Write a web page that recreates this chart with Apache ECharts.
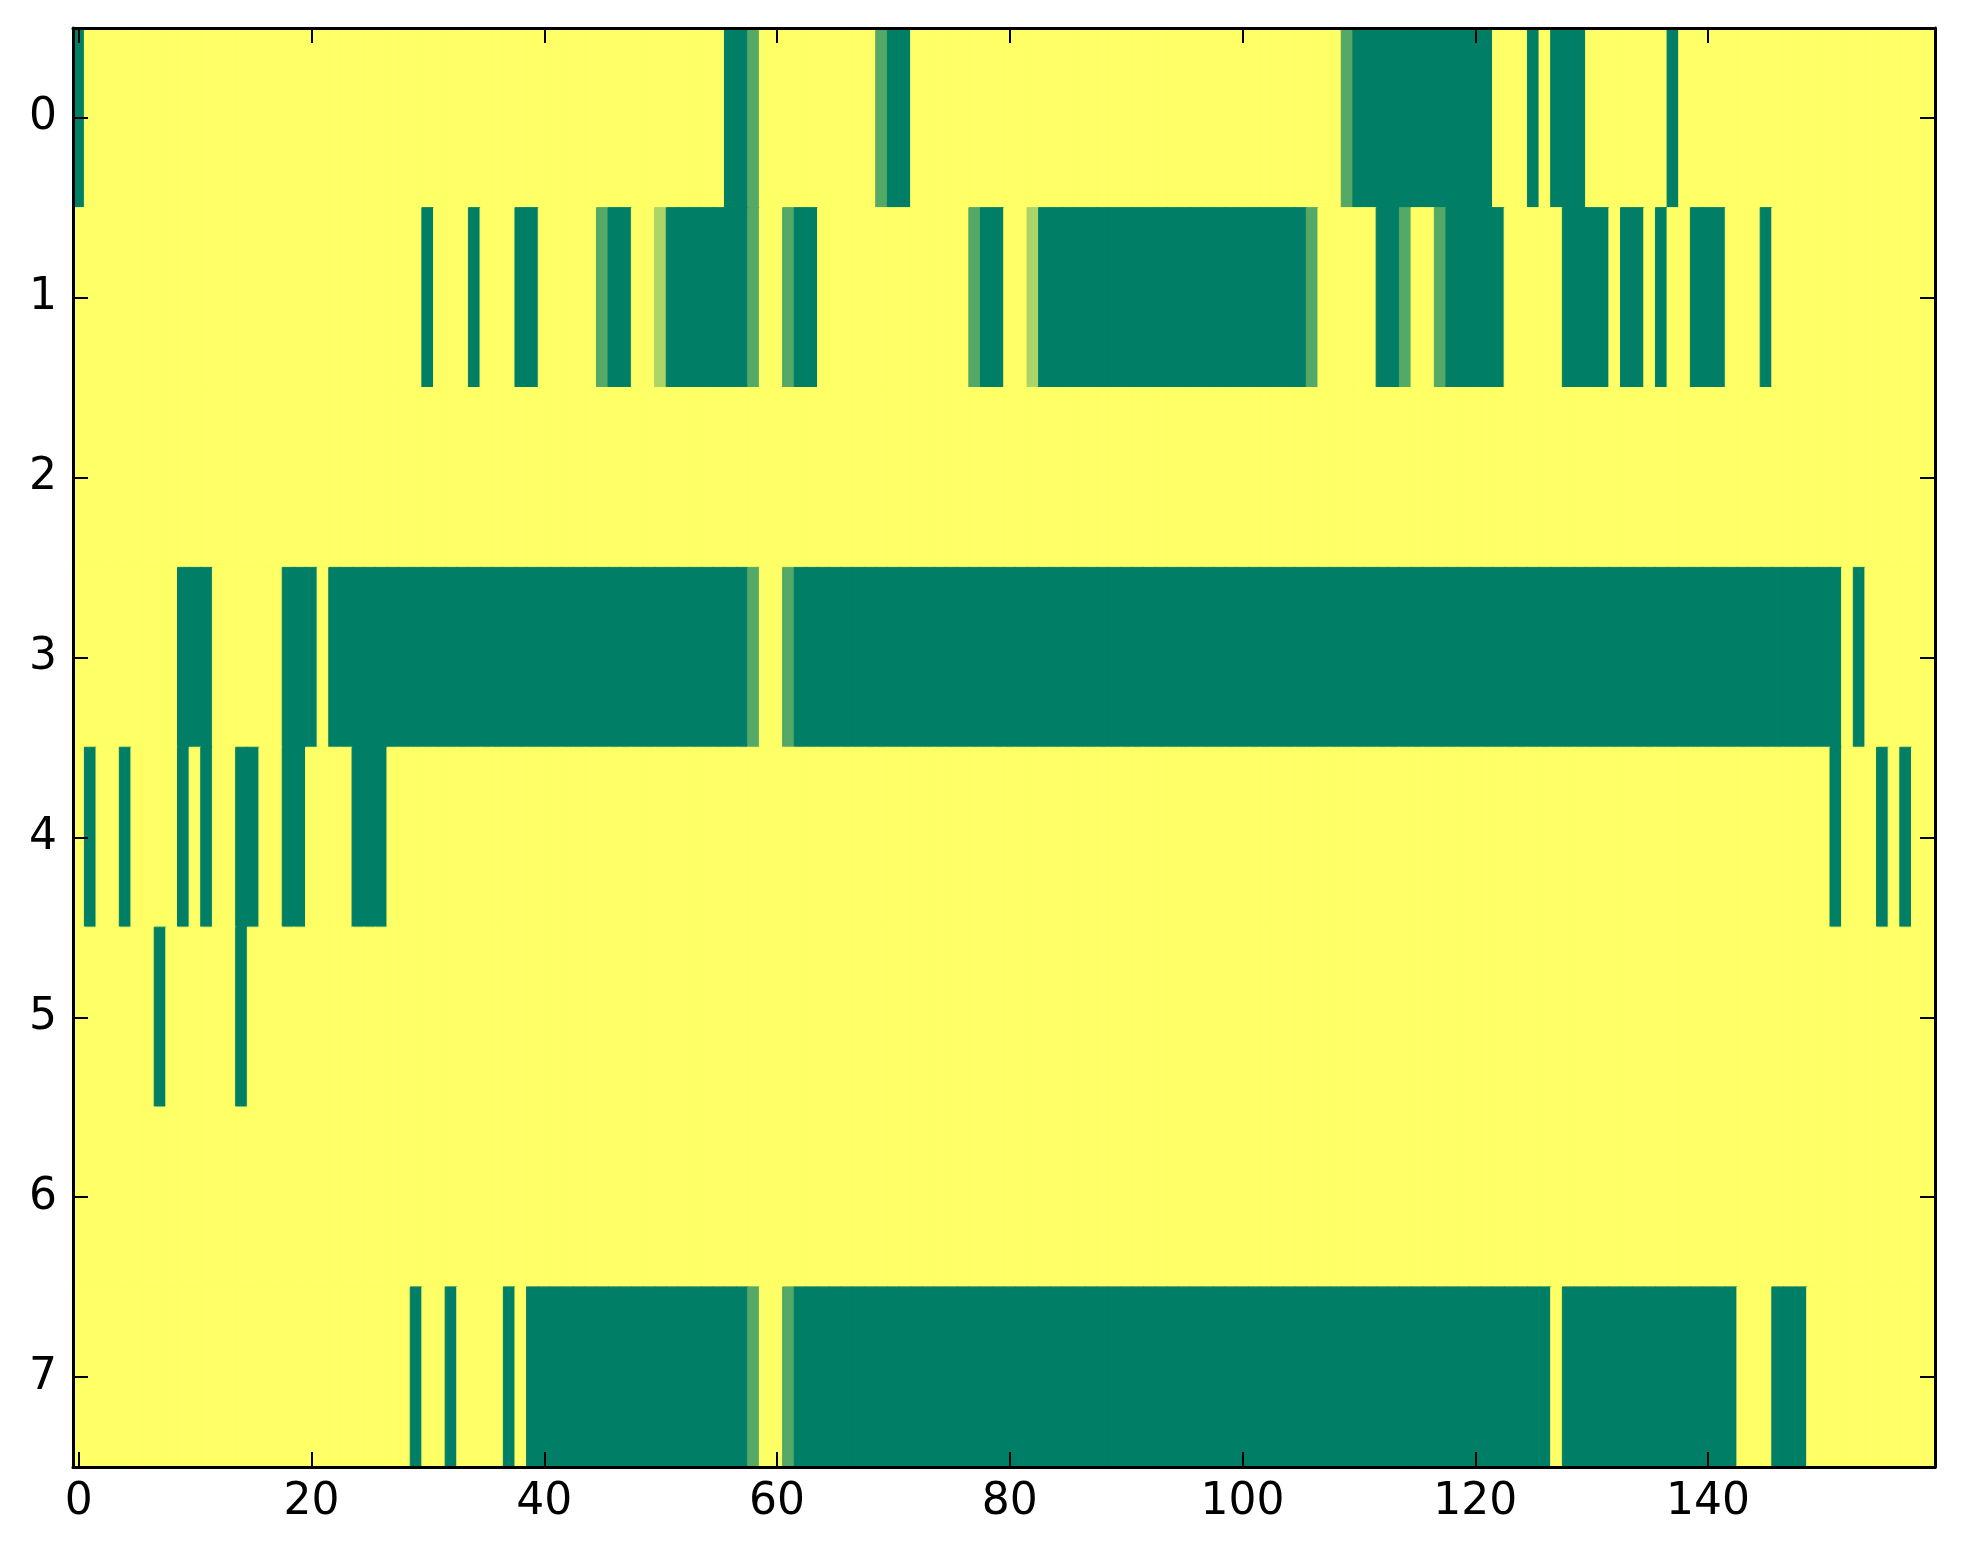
<!DOCTYPE html>
<html><head><meta charset="utf-8">
<script src="https://cdn.jsdelivr.net/npm/echarts@6/dist/echarts.min.js"></script>
<style>html,body{margin:0;padding:0;background:#fff}#c{width:1963px;height:1564px}</style>
</head><body><div id="c"></div>
<script>
// Column categories 0..159 and row categories 0..7
const columns = Array.from({length: 160}, (_, i) => String(i));
const rowLabels = ['0','1','2','3','4','5','6','7'];
const xTickLabels = ['0','20','40','60','80','100','120','140'];

// Cell values per row (0 = dark green, 1 = yellow)
const row0 = [
0,1,1,1,1,1,1,1,1,1,1,1,1,1,1,1,1,1,1,1,
1,1,1,1,1,1,1,1,1,1,1,1,1,1,1,1,1,1,1,1,
1,1,1,1,1,1,1,1,1,1,1,1,1,1,1,1,0,0,0.33,1,
1,1,1,1,1,1,1,1,1,0.33,0,0,1,1,1,1,1,1,1,1,
1,1,1,1,1,1,1,1,1,1,1,1,1,1,1,1,1,1,1,1,
1,1,1,1,1,1,1,1,1,0.33,0,0,0,0,0,0,0,0,0,0,
0,0,1,1,1,0,1,0,0,0,1,1,1,1,1,1,1,0,1,1,
1,1,1,1,1,1,1,1,1,1,1,1,1,1,1,1,1,1,1,1];
const row1 = [
1,1,1,1,1,1,1,1,1,1,1,1,1,1,1,1,1,1,1,1,
1,1,1,1,1,1,1,1,1,1,0,1,1,1,0,1,1,1,0,0,
1,1,1,1,1,0.33,0,0,1,1,0.67,0,0,0,0,0,0,0,0.33,1,
1,0.33,0,0,1,1,1,1,1,1,1,1,1,1,1,1,1,0.33,0,0,
1,1,0.67,0,0,0,0,0,0,0,0,0,0,0,0,0,0,0,0,0,
0,0,0,0,0,0,0.33,1,1,1,1,1,0,0,0.33,1,1,0.33,0,0,
0,0,0,1,1,1,1,1,0,0,0,0,1,0,0,1,0,1,1,0,
0,0,1,1,1,0,1,1,1,1,1,1,1,1,1,1,1,1,1,1];
const row2 = [
1,1,1,1,1,1,1,1,1,1,1,1,1,1,1,1,1,1,1,1,
1,1,1,1,1,1,1,1,1,1,1,1,1,1,1,1,1,1,1,1,
1,1,1,1,1,1,1,1,1,1,1,1,1,1,1,1,1,1,1,1,
1,1,1,1,1,1,1,1,1,1,1,1,1,1,1,1,1,1,1,1,
1,1,1,1,1,1,1,1,1,1,1,1,1,1,1,1,1,1,1,1,
1,1,1,1,1,1,1,1,1,1,1,1,1,1,1,1,1,1,1,1,
1,1,1,1,1,1,1,1,1,1,1,1,1,1,1,1,1,1,1,1,
1,1,1,1,1,1,1,1,1,1,1,1,1,1,1,1,1,1,1,1];
const row3 = [
1,1,1,1,1,1,1,1,1,0,0,0,1,1,1,1,1,1,0,0,
0,1,0,0,0,0,0,0,0,0,0,0,0,0,0,0,0,0,0,0,
0,0,0,0,0,0,0,0,0,0,0,0,0,0,0,0,0,0,0.33,1,
1,0.33,0,0,0,0,0,0,0,0,0,0,0,0,0,0,0,0,0,0,
0,0,0,0,0,0,0,0,0,0,0,0,0,0,0,0,0,0,0,0,
0,0,0,0,0,0,0,0,0,0,0,0,0,0,0,0,0,0,0,0,
0,0,0,0,0,0,0,0,0,0,0,0,0,0,0,0,0,0,0,0,
0,0,0,0,0,0,0,0,0,0,0,0,1,0,1,1,1,1,1,1];
const row4 = [
1,0,1,1,0,1,1,1,1,0,1,0,1,1,0,0,1,1,0,0,
1,1,1,1,0,0,0,1,1,1,1,1,1,1,1,1,1,1,1,1,
1,1,1,1,1,1,1,1,1,1,1,1,1,1,1,1,1,1,1,1,
1,1,1,1,1,1,1,1,1,1,1,1,1,1,1,1,1,1,1,1,
1,1,1,1,1,1,1,1,1,1,1,1,1,1,1,1,1,1,1,1,
1,1,1,1,1,1,1,1,1,1,1,1,1,1,1,1,1,1,1,1,
1,1,1,1,1,1,1,1,1,1,1,1,1,1,1,1,1,1,1,1,
1,1,1,1,1,1,1,1,1,1,1,0,1,1,1,0,1,0,1,1];
const row5 = [
1,1,1,1,1,1,1,0,1,1,1,1,1,1,0,1,1,1,1,1,
1,1,1,1,1,1,1,1,1,1,1,1,1,1,1,1,1,1,1,1,
1,1,1,1,1,1,1,1,1,1,1,1,1,1,1,1,1,1,1,1,
1,1,1,1,1,1,1,1,1,1,1,1,1,1,1,1,1,1,1,1,
1,1,1,1,1,1,1,1,1,1,1,1,1,1,1,1,1,1,1,1,
1,1,1,1,1,1,1,1,1,1,1,1,1,1,1,1,1,1,1,1,
1,1,1,1,1,1,1,1,1,1,1,1,1,1,1,1,1,1,1,1,
1,1,1,1,1,1,1,1,1,1,1,1,1,1,1,1,1,1,1,1];
const row6 = [
1,1,1,1,1,1,1,1,1,1,1,1,1,1,1,1,1,1,1,1,
1,1,1,1,1,1,1,1,1,1,1,1,1,1,1,1,1,1,1,1,
1,1,1,1,1,1,1,1,1,1,1,1,1,1,1,1,1,1,1,1,
1,1,1,1,1,1,1,1,1,1,1,1,1,1,1,1,1,1,1,1,
1,1,1,1,1,1,1,1,1,1,1,1,1,1,1,1,1,1,1,1,
1,1,1,1,1,1,1,1,1,1,1,1,1,1,1,1,1,1,1,1,
1,1,1,1,1,1,1,1,1,1,1,1,1,1,1,1,1,1,1,1,
1,1,1,1,1,1,1,1,1,1,1,1,1,1,1,1,1,1,1,1];
const row7 = [
1,1,1,1,1,1,1,1,1,1,1,1,1,1,1,1,1,1,1,1,
1,1,1,1,1,1,1,1,1,0,1,1,0,1,1,1,1,0,1,0,
0,0,0,0,0,0,0,0,0,0,0,0,0,0,0,0,0,0,0.33,1,
1,0.33,0,0,0,0,0,0,0,0,0,0,0,0,0,0,0,0,0,0,
0,0,0,0,0,0,0,0,0,0,0,0,0,0,0,0,0,0,0,0,
0,0,0,0,0,0,0,0,0,0,0,0,0,0,0,0,0,0,0,0,
0,0,0,0,0,0,0,1,0,0,0,0,0,0,0,0,0,0,0,0,
0,0,0,1,1,1,0,0,0,1,1,1,1,1,1,1,1,1,1,1];

const rows = [row0,row1,row2,row3,row4,row5,row6,row7];

// 'summer' colormap endpoints (low -> high)
const LOW = [0, 127, 102], HIGH = [255, 255, 102];
function cmap(v) {
  const c = LOW.map((l, i) => Math.round(l + (HIGH[i] - l) * v));
  return 'rgb(' + c.join(',') + ')';
}

const data = [];
rows.forEach((r, yi) => r.forEach((v, xi) => data.push({
  value: [xi, yi, v],
  itemStyle: {borderColor: cmap(v), borderWidth: 1}
})));

const FONT = 'DejaVu Sans';
const showX = (i) => xTickLabels.indexOf(String(i)) >= 0;
const lineStyle = {color: '#000', width: 3};
const tickStyle = {color: '#000', width: 2};

function xAx(pos, labels) {
  return {
    type: 'category', data: columns, position: pos, gridIndex: 0, z: 10,
    boundaryGap: true,
    axisLine: {show: true, onZero: false, lineStyle},
    axisTick: {show: true, inside: true, length: 15, alignWithLabel: true, interval: showX, lineStyle: tickStyle},
    axisLabel: {show: labels, interval: showX, fontSize: 44, color: '#000', fontFamily: FONT, margin: 14},
    splitLine: {show: false}
  };
}
function yAx(pos, labels) {
  return {
    type: 'category', data: rowLabels, inverse: true, position: pos, gridIndex: 0, z: 10,
    boundaryGap: true,
    axisLine: {show: true, onZero: false, lineStyle},
    axisTick: {show: true, inside: true, length: 15, alignWithLabel: true, interval: 0, lineStyle: tickStyle},
    axisLabel: {show: labels, interval: 0, fontSize: 44, color: '#000', fontFamily: FONT, margin: 16},
    splitLine: {show: false}
  };
}

const chart = echarts.init(document.getElementById('c'), null, {renderer: 'canvas'});
chart.setOption({
  animation: false,
  backgroundColor: '#fff',
  grid: {left: 73, right: 28, top: 28, bottom: 97, containLabel: false},
  xAxis: [xAx('bottom', true), xAx('top', false)],
  yAxis: [yAx('left', true), yAx('right', false)],
  visualMap: {show: false, min: 0, max: 1, dimension: 2, inRange: {color: ['#007f66', '#ffff66']}},
  series: [{
    type: 'heatmap', xAxisIndex: 0, yAxisIndex: 0, data: data,
    progressive: 0,
    emphasis: {disabled: true}, label: {show: false}
  }]
});
</script></body></html>
